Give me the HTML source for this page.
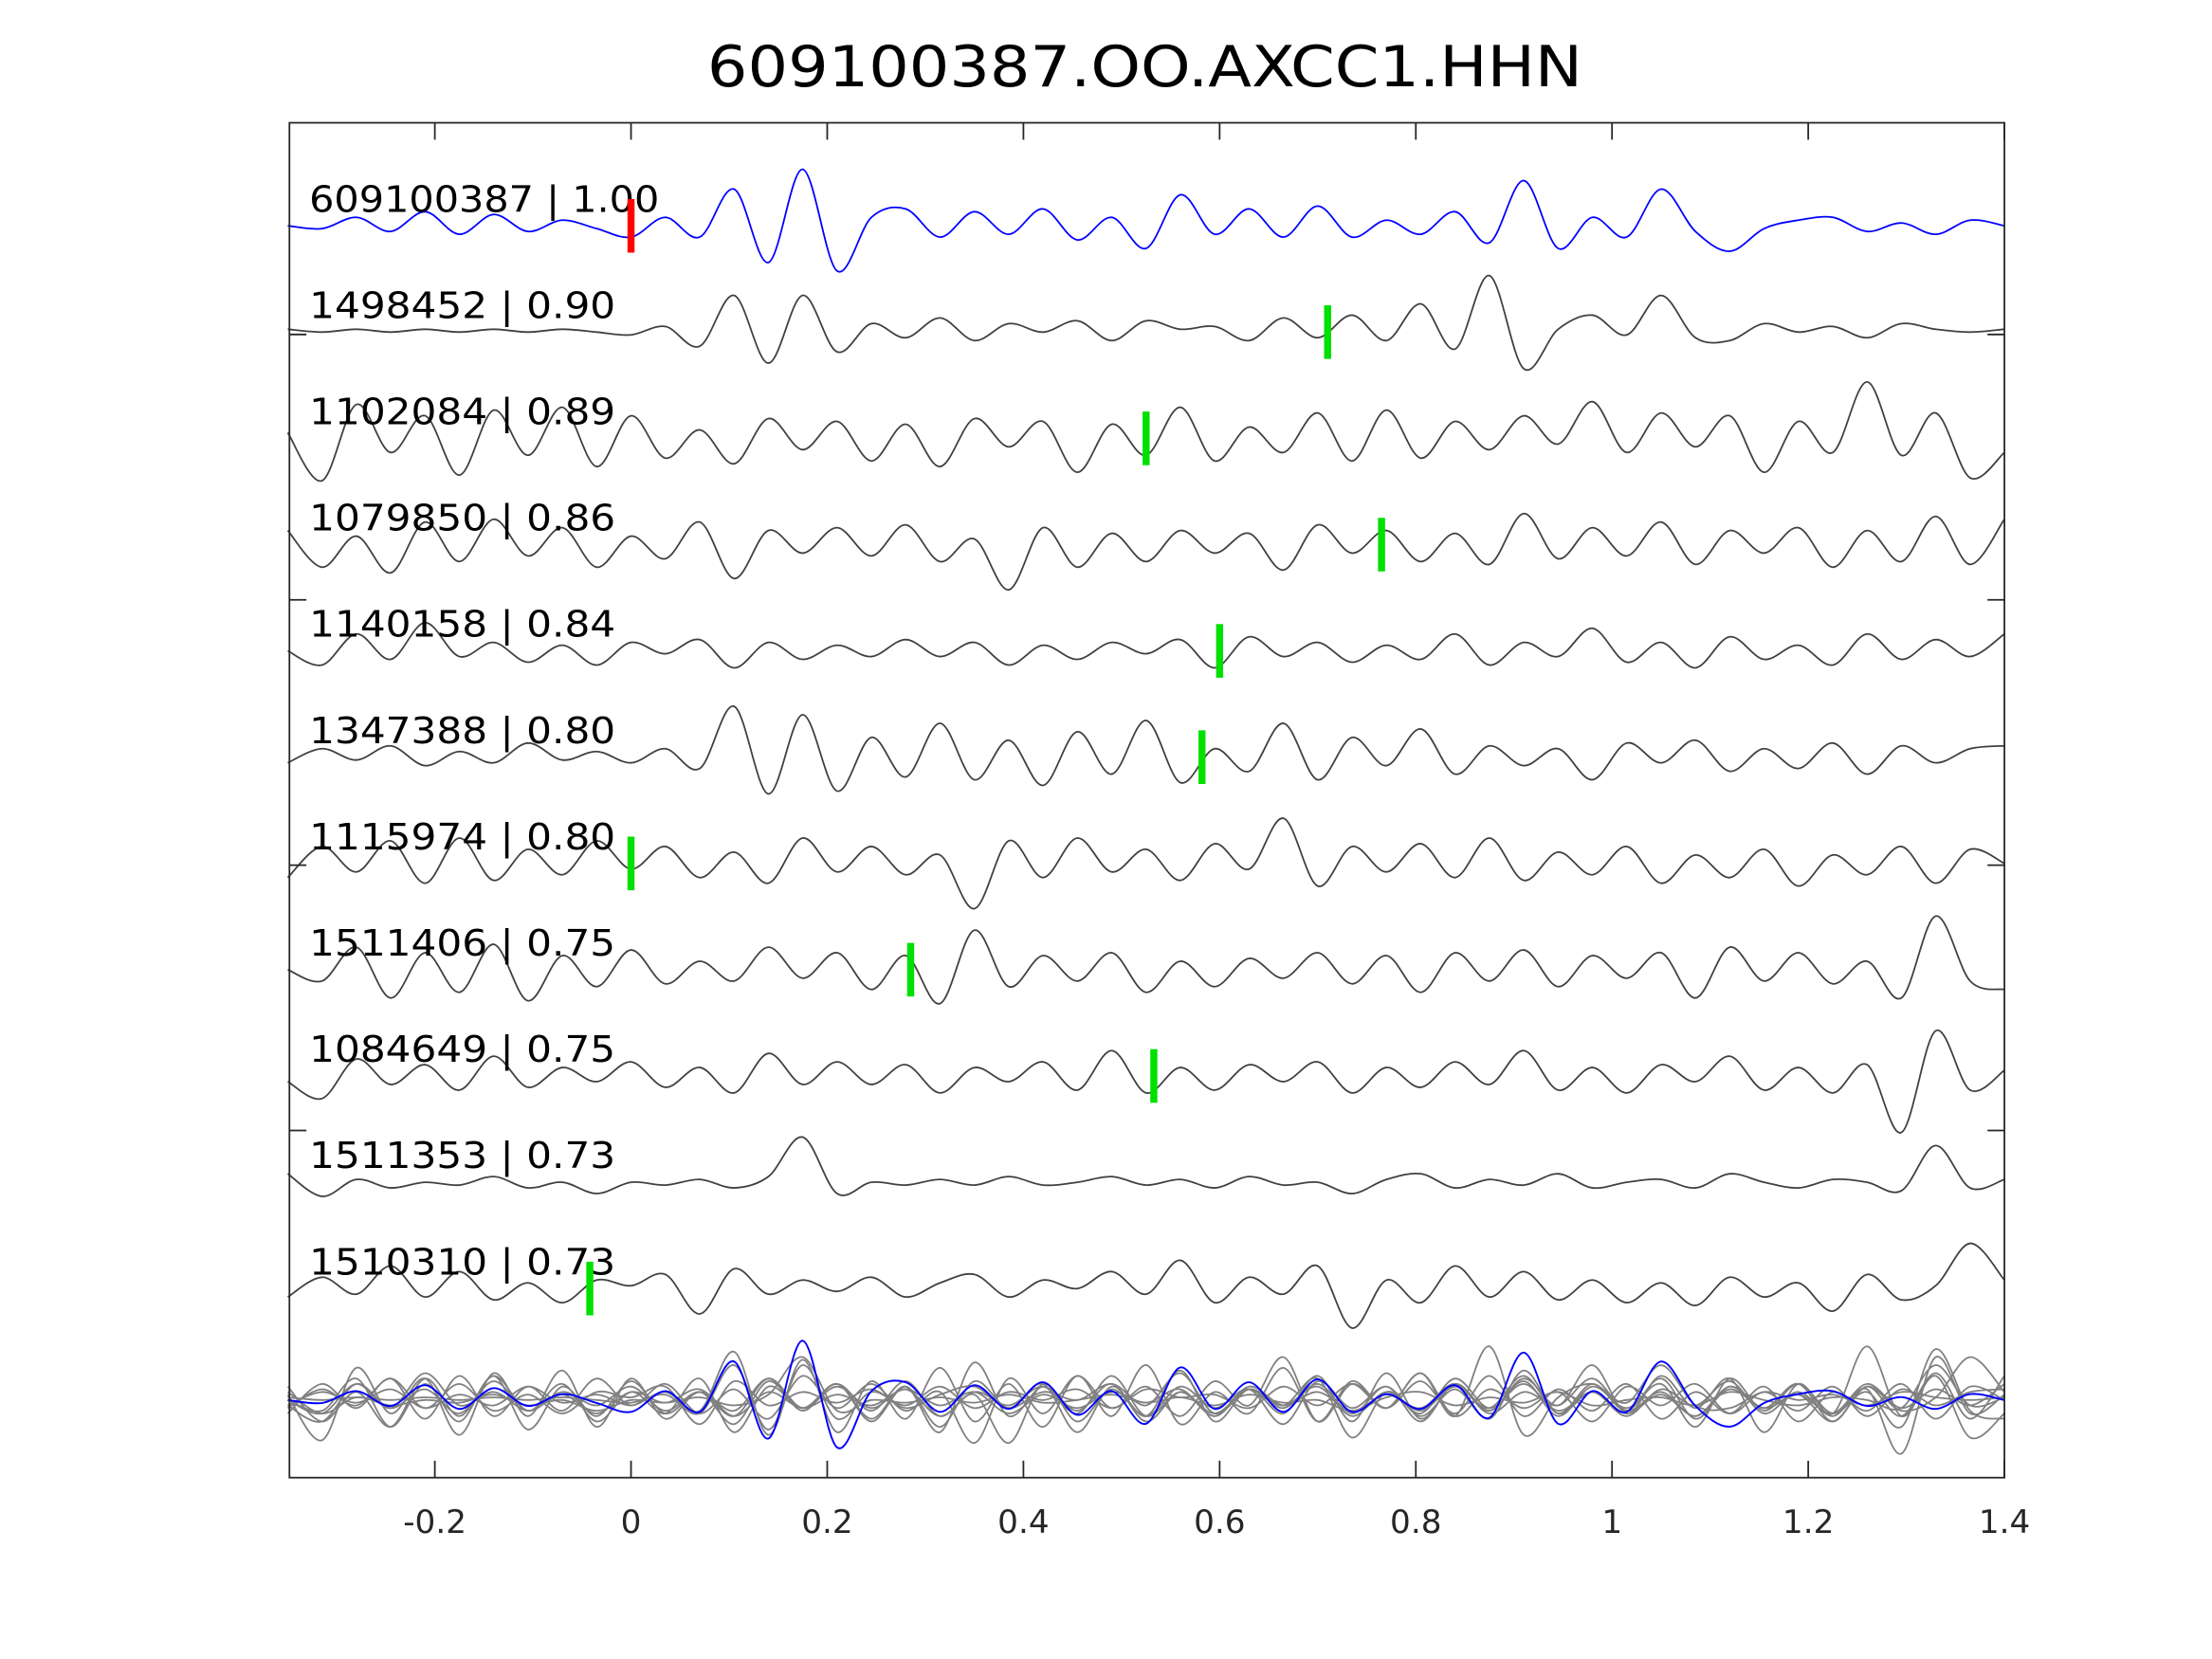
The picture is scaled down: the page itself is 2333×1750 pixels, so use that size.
<!DOCTYPE html>
<html><head><meta charset="utf-8"><style>
html,body{margin:0;padding:0;background:#fff}
svg{display:block}
text{font-family:"DejaVu Sans","Liberation Sans",sans-serif}
</style></head><body>
<svg id="chart" width="2333" height="1750" viewBox="0 0 1567 1175.5" xmlns="http://www.w3.org/2000/svg">
<rect x="0" y="0" width="1567" height="1176" fill="#fff"/>
<text x="811" y="61" font-size="40" text-anchor="middle" fill="#000" textLength="620" lengthAdjust="spacingAndGlyphs">609100387.OO.AXCC1.HHN</text>
<g id="plot"></g>
<rect x="205" y="87" width="1215" height="960" fill="none" stroke="#262626" stroke-width="1.2"/>
</svg>
<script>
const xTicks = [-0.2, 0, 0.2, 0.4, 0.6, 0.8, 1, 1.2, 1.4];
const xTickLabels = ["-0.2", "0", "0.2", "0.4", "0.6", "0.8", "1", "1.2", "1.4"];
const traceLabels = ["609100387 | 1.00","1498452 | 0.90","1102084 | 0.89","1079850 | 0.86","1140158 | 0.84","1347388 | 0.80","1115974 | 0.80","1511406 | 0.75","1084649 | 0.75","1511353 | 0.73","1510310 | 0.73"];
const pickTimes = [0.0, 0.71, 0.525, 0.765, 0.6, 0.582, 0.0, 0.285, 0.533, null, -0.042];
const t0 = -0.35;
const dt = 0.035;
const tr1 = [0,-0.1,0.3,-0.2,0.5,-0.3,0.4,-0.2,0.2,-0.1,-0.4,0.3,-0.4,1.3,-1.3,2.0,-1.6,0.3,0.6,-0.4,0.5,-0.3,0.6,-0.5,0.3,-0.8,1.1,-0.3,0.6,-0.4,0.7,-0.4,0.2,-0.3,0.5,-0.6,1.6,-0.8,0.3,-0.4,1.3,-0.2,-0.9,-0.1,0.2,0.3,-0.2,0.1,-0.3,0.2,0];
const tr2 = [0.1,0,0.1,0,0.1,0,0.1,0,0.1,0,-0.1,0.2,-0.5,1.3,-1.1,1.3,-0.7,0.3,-0.2,0.5,-0.3,0.3,0,0.4,-0.3,0.4,0.1,0.2,-0.3,0.5,-0.2,0.6,-0.3,1.0,-0.6,2.0,-1.3,0.1,0.6,-0.1,1.3,-0.2,-0.3,0.3,0,0.2,-0.2,0.3,0.1,0,0.1];
const tr3 = [0.2,-1.5,1.2,-0.5,0.8,-1.3,1.0,-0.6,1.1,-1.0,0.8,-0.7,0.3,-0.9,0.7,-0.4,0.6,-0.8,0.5,-1.0,0.7,-0.3,0.6,-1.2,0.5,-0.6,1.1,-0.8,0.4,-0.5,0.9,-0.8,1.0,-0.7,0.6,-0.4,0.8,-0.2,1.3,-0.5,0.9,-0.3,0.8,-1.2,0.6,-0.5,2.0,-0.6,0.9,-1.4,-0.5];
const tr4 = [0.5,-0.8,0.3,-1.0,0.8,-0.6,0.9,-0.4,0.6,-0.8,0.3,-0.5,0.8,-1.2,0.5,-0.3,0.6,-0.4,0.7,-0.6,0.2,-1.6,0.6,-0.8,0.4,-0.6,0.5,-0.3,0.4,-0.9,0.7,-0.3,0.5,-0.6,0.4,-0.7,1.1,-0.5,0.6,-0.4,0.8,-0.7,0.5,-0.3,0.6,-0.8,0.5,-0.6,1.0,-0.7,0.9];
const tr5 = [0,-0.5,0.6,-0.3,1.0,-0.2,0.3,-0.4,0.2,-0.5,0.3,-0.1,0.4,-0.6,0.3,-0.3,0.2,-0.2,0.4,-0.2,0.3,-0.5,0.2,-0.3,0.3,-0.1,0.4,-0.6,0.5,-0.2,0.3,-0.4,0.2,-0.3,0.6,-0.5,0.3,-0.2,0.8,-0.4,0.3,-0.6,0.5,-0.3,0.2,-0.5,0.6,-0.3,0.4,-0.2,0.6];
const tr6 = [-0.2,0.3,-0.1,0.4,-0.3,0.2,-0.2,0.5,-0.1,0.2,-0.2,0.3,-0.4,1.8,-1.3,1.5,-1.2,0.7,-0.7,1.2,-0.8,0.6,-1.0,0.9,-0.6,1.3,-0.9,0.3,-0.5,1.2,-0.8,0.7,-0.3,1.0,-0.6,0.4,-0.3,0.3,-0.8,0.5,-0.2,0.6,-0.5,0.3,-0.4,0.5,-0.6,0.4,-0.2,0.3,0.4];
const tr7 = [-0.5,0.6,-0.3,0.8,-0.7,0.9,-0.6,0.5,-0.4,0.8,-0.2,0.6,-0.5,0.4,-0.7,0.9,-0.3,0.6,-0.4,0.3,-1.6,0.8,-0.5,0.9,-0.3,0.5,-0.6,0.7,-0.2,1.6,-0.8,0.6,-0.3,0.7,-0.5,0.9,-0.6,0.4,-0.4,0.6,-0.7,0.3,-0.5,0.5,-0.8,0.3,-0.4,0.6,-0.7,0.5,0];
const tr8 = [0,-0.4,0.8,-1.0,0.6,-0.8,0.9,-1.1,0.5,-0.6,0.7,-0.5,0.3,-0.4,0.8,-0.3,0.6,-0.7,0.5,-1.2,1.4,-0.6,0.5,-0.4,0.6,-0.8,0.3,-0.6,0.4,-0.3,0.6,-0.5,0.5,-0.8,0.6,-0.4,0.7,-0.6,0.5,-0.3,0.6,-1.0,0.8,-0.4,0.6,-0.5,0.3,-1.0,1.9,-0.4,-0.7];
const tr9 = [-0.2,-0.8,0.6,-0.3,0.4,-0.5,0.7,-0.4,0.3,-0.2,0.5,-0.4,0.3,-0.6,0.8,-0.3,0.5,-0.3,0.4,-0.6,0.3,-0.2,0.5,-0.5,0.9,-0.6,0.3,-0.5,0.4,-0.2,0.5,-0.6,0.3,-0.4,0.5,-0.3,0.9,-0.5,0.3,-0.6,0.4,-0.2,0.7,-0.5,0.3,-0.6,0.4,-2.0,1.6,-0.5,0.2];
const tr10 = [0.3,-0.5,0.1,-0.2,0,-0.1,0.2,-0.2,0,-0.4,0,-0.1,0.1,-0.2,0.2,1.6,-0.4,0,-0.1,0.1,-0.1,0.2,-0.1,0,0.2,-0.1,0.1,-0.2,0.2,-0.1,0,-0.4,0.1,0.3,-0.2,0.1,-0.1,0.3,-0.2,0,0.1,-0.2,0.3,0,-0.2,0.1,0,-0.3,1.3,-0.2,0.1];
const tr11 = [-0.3,0.4,-0.2,0.8,-0.3,0.6,-0.4,0.2,-0.5,0.3,0.1,0.5,-0.9,0.7,-0.2,0.3,-0.1,0.4,-0.3,0.2,0.5,-0.3,0.3,0,0.6,-0.2,1.0,-0.5,0.4,-0.2,0.8,-1.4,0.3,-0.5,0.8,-0.3,0.6,-0.4,0.3,-0.5,0.2,-0.6,0.4,-0.3,0.2,-0.8,0.5,-0.4,0.1,1.6,0.3];
const traces = [tr1,tr2,tr3,tr4,tr5,tr6,tr7,tr8,tr9,tr10,tr11];

const NS = "http://www.w3.org/2000/svg";
const plot = document.getElementById("plot");
function xScale(t){ return 447 + (t) * 695; }
function baseY(k){ return 160 + k * 75.3; }
const STACK_Y = 992;
function mk(tag, attrs){ const e = document.createElementNS(NS, tag); for (const k in attrs) e.setAttribute(k, attrs[k]); return e; }
function pathD(arr, base, amp){
  const P = arr.map((v,i)=> [xScale(t0 + i*dt), base - v*amp]);
  let d = "M" + P[0][0].toFixed(1) + "," + P[0][1].toFixed(1);
  for (let i = 0; i < P.length - 1; i++) {
    const p0 = P[Math.max(0,i-1)], p1 = P[i], p2 = P[i+1], p3 = P[Math.min(P.length-1,i+2)];
    const c1x = p1[0] + (p2[0]-p0[0])/6, c1y = p1[1] + (p2[1]-p0[1])/6;
    const c2x = p2[0] - (p3[0]-p1[0])/6, c2y = p2[1] - (p3[1]-p1[1])/6;
    d += " C" + c1x.toFixed(1) + "," + c1y.toFixed(1) + " " + c2x.toFixed(1) + "," + c2y.toFixed(1) + " " + p2[0].toFixed(1) + "," + p2[1].toFixed(1);
  }
  return d;
}

for (let k = 1; k < traces.length; k++) {
  const p = mk("path", {d: pathD(traces[k], STACK_Y, 19), fill:"none", stroke:"#808080", "stroke-width":"1.2"});
  
  
  plot.appendChild(p);
}
const sb = mk("path", {d: pathD(tr1, STACK_Y, 21), fill:"none", stroke:"#0000ff", "stroke-width":"1.3"});


plot.appendChild(sb);

for (let k = 0; k < traces.length; k++) {
  const by = baseY(k);
  const line = mk("path", {d: pathD(traces[k], by, 20), fill:"none", stroke: k===0 ? "#0000ff" : "#404040", "stroke-width":"1.2"});
  
  
  plot.appendChild(line);
  const lab = mk("text", {x: 219, y: (by - 10).toFixed(1), "font-size": "26", fill:"#000", textLength: (traceLabels[k].length * 15.5).toFixed(0), lengthAdjust:"spacingAndGlyphs"});
  lab.textContent = traceLabels[k];
  
  
  plot.appendChild(lab);
  if (pickTimes[k] !== null) {
    const px = xScale(pickTimes[k]);
    const pk = mk("rect", {x: (px-2.5).toFixed(1), y: (by-19).toFixed(1), width: 5, height: 38, fill: k===0 ? "#ff0000" : "#00e000"});
    
    
    plot.appendChild(pk);
  }
}

xTicks.forEach((t, i) => {
  const x = xScale(t);
  const b = mk("line", {x1:x, x2:x, y1:1047, y2:1035, stroke:"#262626", "stroke-width":"1.2"});
  
  
  plot.appendChild(b);
  const tp = mk("line", {x1:x, x2:x, y1:87, y2:99, stroke:"#262626", "stroke-width":"1.2"});
  
  
  plot.appendChild(tp);
  const lb = mk("text", {x:x, y:1086, "font-size":"23", "text-anchor":"middle", fill:"#262626"});
  lb.textContent = xTickLabels[i];
  
  
  plot.appendChild(lb);
});
[237, 425, 613, 801].forEach(y => {
  const l = mk("line", {x1:205, x2:217, y1:y, y2:y, stroke:"#262626", "stroke-width":"1.2"});
  
  
  plot.appendChild(l);
  const r = mk("line", {x1:1408, x2:1420, y1:y, y2:y, stroke:"#262626", "stroke-width":"1.2"});
  
  
  plot.appendChild(r);
});
</script>
</body></html>
